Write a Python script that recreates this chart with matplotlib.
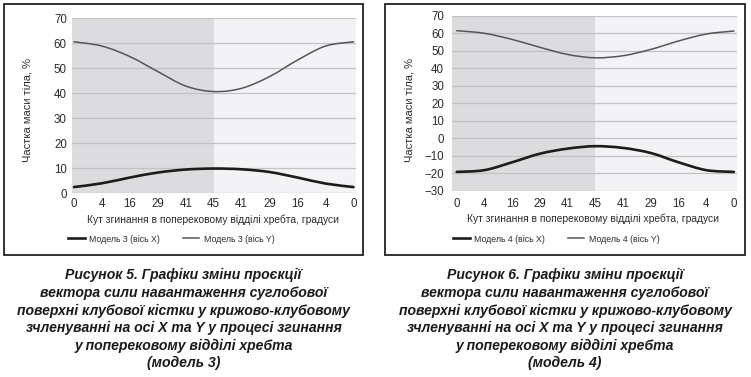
import matplotlib
matplotlib.use('Agg')
import matplotlib.pyplot as plt
from matplotlib.patches import Rectangle, PathPatch
from matplotlib.path import Path
from matplotlib.lines import Line2D

# ---------------- data ----------------
angles = ['0', '4', '16', '29', '41', '45', '41', '29', '16', '4', '0']
model3_x = [2.5, 4.0, 6.3, 8.3, 9.5, 9.9, 9.6, 8.5, 6.3, 3.9, 2.5]
model3_y = [60.6, 58.9, 54.7, 48.7, 42.9, 40.7, 42.0, 46.7, 53.3, 58.9, 60.6]
model4_x = [-19.2, -18.2, -13.7, -8.8, -5.9, -4.5, -5.5, -8.4, -13.7, -18.2, -19.2]
model4_y = [61.5, 60.0, 56.5, 52.0, 47.9, 46.0, 47.2, 50.8, 55.6, 59.6, 61.3]

yticks3 = [0, 10, 20, 30, 40, 50, 60, 70]
yticks4 = [-30, -20, -10, 0, 10, 20, 30, 40, 50, 60, 70]

xlabel = 'Кут згинання в поперековому відділі хребта, градуси'
ylabel = 'Частка маси тіла, %'
legend3 = ['Модель 3 (вісь X)', 'Модель 3 (вісь Y)']
legend4 = ['Модель 4 (вісь X)', 'Модель 4 (вісь Y)']
caption3 = ['Рисунок 5. Графіки зміни проєкції',
            'вектора сили навантаження суглобової',
            'поверхні клубової кістки у крижово-клубовому',
            'зчленуванні на осі X та Y у процесі згинання',
            'у поперековому відділі хребта',
            '(модель 3)']
caption4 = ['Рисунок 6. Графіки зміни проєкції',
            'вектора сили навантаження суглобової',
            'поверхні клубової кістки у крижово-клубовому',
            'зчленуванні на осі X та Y у процесі згинання',
            'у поперековому відділі хребта',
            '(модель 4)']

# ---------------- layout / style ----------------
W, H = 751, 377
fig = plt.figure(figsize=(W / 100, H / 100), dpi=100)
fig.patch.set_facecolor('white')

FONT = ['Liberation Sans', 'DejaVu Sans']
TXT = '#2b2b2b'
DARK_BG = '#dcdcde'
LIGHT_BG = '#f3f3f5'
GRID = '#c2c2c4'
XCOL, XLW = '#1c1c1c', 1.9
YCOL, YLW = '#555558', 1.1


def fr(x0, y0, x1, y1):
    """pixel box (top-left origin) -> figure fraction rect"""
    return [x0 / W, 1 - y1 / H, (x1 - x0) / W, (y1 - y0) / H]


def smooth_line(ax, values, color, lw):
    """Excel-style smoothed line: cubic Bezier through every data point."""
    pts = list(zip(range(len(values)), values))
    n = len(pts)
    verts = [pts[0]]
    codes = [Path.MOVETO]
    for i in range(n - 1):
        p0 = pts[max(i - 1, 0)]
        p1 = pts[i]
        p2 = pts[i + 1]
        p3 = pts[min(i + 2, n - 1)]
        c1 = (p1[0] + (p2[0] - p0[0]) / 6, p1[1] + (p2[1] - p0[1]) / 6)
        c2 = (p2[0] - (p3[0] - p1[0]) / 6, p2[1] - (p3[1] - p1[1]) / 6)
        verts += [c1, c2, p2]
        codes += [Path.CURVE4] * 3
    ax.add_patch(PathPatch(Path(verts, codes), fill=False, edgecolor=color,
                           lw=lw, zorder=3, capstyle='round', joinstyle='round'))


def panel(rect, xlim, ylim, yticks, xs, ys, leg, leg_anchor, xlab_pos, ylab_pos,
          ypad, xpad, colsp):
    ax = fig.add_axes(rect)
    ax.set_facecolor(LIGHT_BG)
    ax.set_xlim(*xlim)
    ax.set_ylim(*ylim)
    ax.axvspan(xlim[0], 5, color=DARK_BG, lw=0, zorder=0)
    ax.set_yticks(yticks)
    ax.set_xticks(range(len(angles)))
    ax.set_xticklabels(angles)
    ax.yaxis.grid(True, color=GRID, lw=0.9, zorder=1)
    ax.set_axisbelow(False)
    for s in ax.spines.values():
        s.set_visible(False)
    ax.tick_params(axis='y', length=0, pad=ypad, labelsize=8.3, labelcolor=TXT)
    ax.tick_params(axis='x', length=0, pad=xpad, labelsize=8.3, labelcolor=TXT)
    for lab in ax.get_xticklabels() + ax.get_yticklabels():
        lab.set_fontfamily(FONT)
    smooth_line(ax, xs, XCOL, XLW)
    smooth_line(ax, ys, YCOL, YLW)
    fig.text(xlab_pos[0] / W, 1 - xlab_pos[1] / H, xlabel, ha='center', va='center',
             fontsize=7.4, color=TXT, family=FONT)
    fig.text(ylab_pos[0] / W, 1 - ylab_pos[1] / H, ylabel, ha='center', va='center',
             rotation=90, fontsize=8.0, color=TXT, family=FONT)
    handles = [Line2D([], [], color=XCOL, lw=XLW), Line2D([], [], color=YCOL, lw=YLW)]
    fig.legend(handles, leg, loc='center left',
               bbox_to_anchor=(leg_anchor[0] / W, 1 - leg_anchor[1] / H),
               ncol=2, frameon=False, borderpad=0, borderaxespad=0,
               handlelength=1.9, handletextpad=0.5, columnspacing=colsp,
               prop={'family': FONT, 'size': 6.3}, labelcolor=TXT)
    return ax


panel(fr(71.7, 18.3, 355.7, 193.3), (-0.08, 10.08), (0, 70), yticks3,
      model3_x, model3_y, legend3, (68, 239), (213, 220), (28, 110),
      ypad=3.5, xpad=3.5, colsp=2.6)
panel(fr(451.7, 15.8, 737, 190.8), (-0.18, 10.11), (-30, 70), yticks4,
      model4_x, model4_y, legend4, (453, 239), (593, 219), (410, 110),
      ypad=5.5, xpad=5, colsp=2.6)

# frames around each figure
for x0, x1 in [(4, 363.3), (385.3, 745)]:
    fig.add_artist(Rectangle((x0 / W, 1 - 255 / H), (x1 - x0) / W, (255 - 4) / H,
                             fill=False, lw=1.3, edgecolor='#222222',
                             transform=fig.transFigure))

# captions
cap_y = [275, 293, 310.5, 328, 345.5, 363]
for cx, cap in [(183.5, caption3), (565, caption4)]:
    for line, yy in zip(cap, cap_y):
        fig.text(cx / W, 1 - yy / H, line, ha='center', va='center',
                 fontsize=10.1, fontweight='bold', fontstyle='italic',
                 color='#1a1a1a', family=FONT)

fig.savefig('out.png', dpi=100, facecolor='white')
